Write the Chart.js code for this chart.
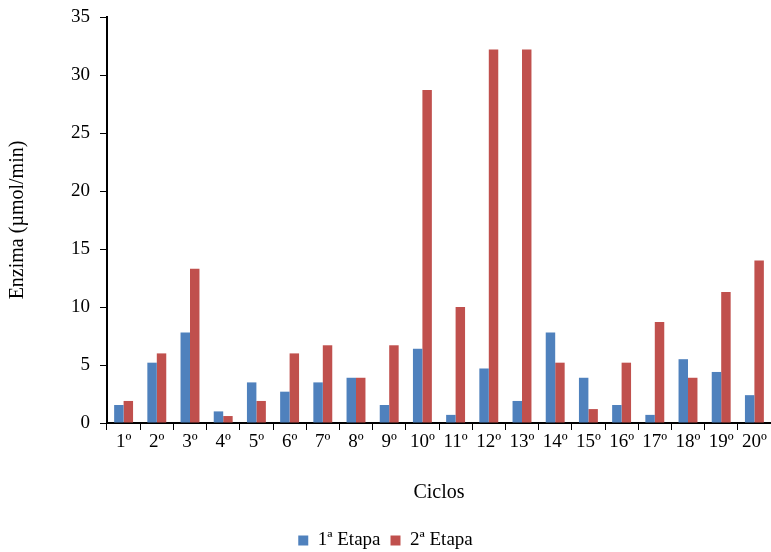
<!DOCTYPE html>
<html>
<head>
<meta charset="utf-8">
<script src="https://cdn.jsdelivr.net/npm/chart.js@4/dist/chart.umd.min.js"></script>
<style>
  html, body { margin: 0; padding: 0; background: #fff; }
  #wrap { width: 771px; height: 552px; }
</style>
</head>
<body>
<div id="wrap"><canvas id="enzimaChart"></canvas></div>
<script>
const ciclos = ['1º', '2º', '3º', '4º', '5º', '6º', '7º', '8º', '9º', '10º',
  '11º', '12º', '13º', '14º', '15º', '16º', '17º', '18º', '19º', '20º'];
const etapa1 = [1.55, 5.2, 7.8, 1.0, 3.5, 2.7, 3.5, 3.9, 1.55, 6.4,
  0.7, 4.7, 1.9, 7.8, 3.9, 1.55, 0.7, 5.5, 4.4, 2.4];
const etapa2 = [1.9, 6.0, 13.3, 0.6, 1.9, 6.0, 6.7, 3.9, 6.7, 28.7,
  10.0, 32.2, 32.2, 5.2, 1.2, 5.2, 8.7, 3.9, 11.3, 14.0];
const yTicks = [0, 5, 10, 15, 20, 25, 30, 35];

const fontFamily = '"Liberation Serif", "DejaVu Serif", serif';

function drawChart() {
  const ctx = document.getElementById('enzimaChart').getContext('2d');
  new Chart(ctx, {
    type: 'bar',
    data: {
      labels: ciclos,
      datasets: [
        {
          label: '1ª Etapa',
          data: etapa1,
          backgroundColor: '#4F81BD',
          categoryPercentage: 0.57,
          barPercentage: 1.0
        },
        {
          label: '2ª Etapa',
          data: etapa2,
          backgroundColor: '#C0504D',
          categoryPercentage: 0.57,
          barPercentage: 1.0
        }
      ]
    },
    options: {
      responsive: true,
      maintainAspectRatio: false,
      animation: false,
      layout: { padding: { top: 17, right: 0, left: 0, bottom: -8 } },
      plugins: {
        tooltip: { enabled: false },
        legend: {
          position: 'bottom',
          labels: {
            boxWidth: 10,
            boxHeight: 10,
            padding: 10,
            color: '#000',
            font: { family: fontFamily, size: 19 }
          }
        }
      },
      scales: {
        x: {
          grid: {
            display: true,
            drawOnChartArea: false,
            drawTicks: true,
            tickLength: 7,
            color: '#000',
            offset: true
          },
          border: { color: '#000', width: 2 },
          ticks: {
            color: '#000',
            maxRotation: 0,
            autoSkip: false,
            padding: 1,
            font: { family: fontFamily, size: 19 }
          },
          title: {
            display: true,
            text: 'Ciclos',
            color: '#000',
            padding: { top: 22, bottom: 16 },
            font: { family: fontFamily, size: 20 }
          },
          afterFit: (scale) => { scale.height = 98; }
        },
        y: {
          min: 0,
          max: 35,
          afterBuildTicks: (scale) => { scale.ticks = yTicks.map(v => ({ value: v })); },
          grid: {
            display: true,
            drawOnChartArea: false,
            drawTicks: true,
            tickLength: 7,
            color: '#000'
          },
          border: { color: '#000', width: 2 },
          ticks: {
            color: '#000',
            padding: 10,
            font: { family: fontFamily, size: 19 }
          },
          title: {
            display: true,
            text: 'Enzima (µmol/min)',
            color: '#000',
            padding: { top: 6, bottom: 10 },
            font: { family: fontFamily, size: 20 }
          },
          afterFit: (scale) => {
            scale.width = 107;
            scale.paddingTop = 0;
            scale.paddingBottom = 0;
          }
        }
      }
    }
  });
}

document.addEventListener('DOMContentLoaded', drawChart);
</script>
</body>
</html>
